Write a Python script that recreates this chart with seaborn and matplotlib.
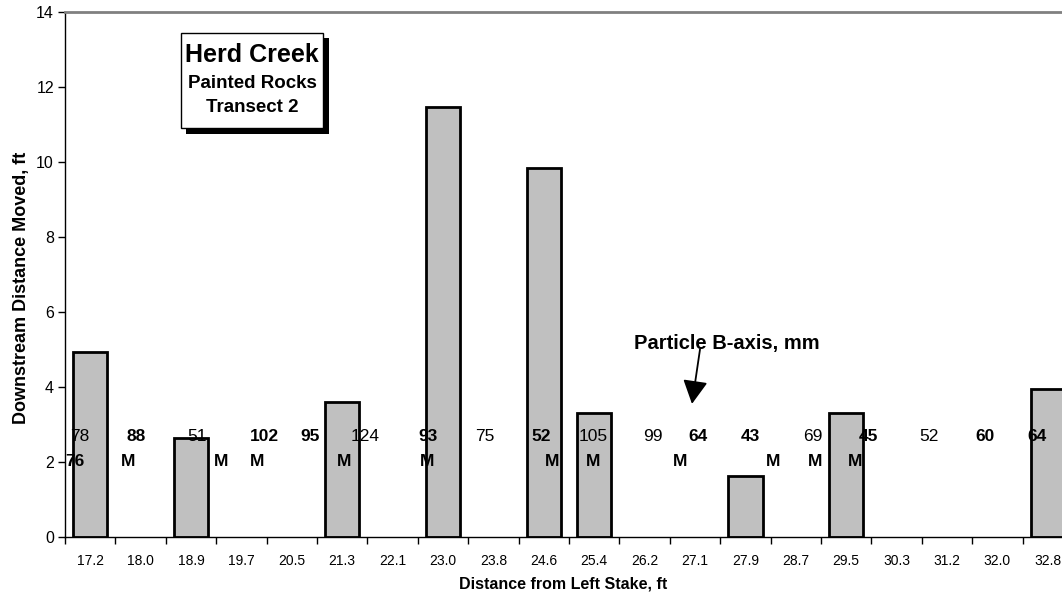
import matplotlib
matplotlib.use("Agg")
import matplotlib.pyplot as plt
from matplotlib.patches import Rectangle
import seaborn as sns
import pandas as pd
import numpy as np

# stations along the transect (x categories)
stations = ['17.2', '18.0', '18.9', '19.7', '20.5', '21.3', '22.1', '23.0', '23.8', '24.6',
            '25.4', '26.2', '27.1', '27.9', '28.7', '29.5', '30.3', '31.2', '32.0', '32.8']

# painted rocks that moved
bar_stations = ['17.2', '18.9', '21.3', '23.0', '24.6', '25.4', '27.9', '29.5', '32.8']
moved_ft = [4.93, 2.63, 3.60, 11.48, 9.84, 3.30, 1.62, 3.30, 3.94]

# particle b-axis labels (upper row), x in category units
size_labels = ['78', '88', '51', '102', '95', '124', '93', '75', '52', '105',
               '99', '64', '43', '69', '45', '52', '60', '64']
size_x = [-0.20, 0.91, 2.12, 3.45, 4.37, 5.46, 6.71, 7.82, 8.95, 9.98,
          11.17, 12.06, 13.10, 14.33, 15.44, 16.65, 17.76, 18.79]
size_bold = [False, True, False, True, True, False, True, False, True, False,
             False, True, True, False, True, False, True, True]
size_y = 2.67

# lower row: "M" = moved (plus one size label)
m_labels = ['76', 'M', 'M', 'M', 'M', 'M', 'M', 'M', 'M', 'M', 'M', 'M']
m_x = [-0.30, 0.75, 2.60, 3.31, 5.04, 6.69, 9.17, 9.98, 11.71, 13.55, 14.38, 15.18]
m_y = 2.0

df = pd.DataFrame({'station': bar_stations, 'moved': moved_ft})

sns.set_style('white')
plt.rcParams['font.family'] = ['Liberation Sans', 'DejaVu Sans']
plt.rcParams['text.color'] = 'black'
plt.rcParams['xtick.color'] = 'black'
plt.rcParams['ytick.color'] = 'black'
plt.rcParams['axes.labelcolor'] = 'black'

fig = plt.figure(figsize=(10.62, 5.96), dpi=100)
ax = fig.add_axes([65 / 1062, 59 / 596, 1008 / 1062, 525 / 596])

sns.barplot(data=df, x='station', y='moved', order=stations, color='#c0c0c0',
            saturation=1, edgecolor='black', linewidth=2, width=0.68, ax=ax, zorder=2)

ax.set_xlim(-0.5, 19.5)
ax.set_ylim(0, 14)
ax.set_yticks(np.arange(0, 15, 2))
ax.set_xticks(np.arange(-0.5, 20, 1), minor=True)
ax.tick_params(axis='y', which='major', length=5, width=1, direction='out',
               left=True, labelsize=11.5, pad=3, color='black', labelcolor='black')
ax.tick_params(axis='x', which='major', length=0, pad=12, labelcolor='black')
ax.tick_params(axis='x', which='minor', length=5, width=1, direction='out',
               bottom=True, color='black')
for lab in ax.get_xticklabels():
    lab.set_fontsize(10)

for side in ['left', 'bottom']:
    ax.spines[side].set_color('black')
    ax.spines[side].set_linewidth(1)
for side in ['top', 'right']:
    ax.spines[side].set_color('#808080')
    ax.spines[side].set_linewidth(2)
ax.set_xlabel('')
ax.set_ylabel('')

# data labels
for t, x, b in zip(size_labels, size_x, size_bold):
    ax.text(x, size_y, t, ha='center', va='center', fontsize=12.5, color='black',
            fontweight='bold' if b else 'normal', zorder=3)
for t, x in zip(m_labels, m_x):
    ax.text(x, m_y, t, ha='center', va='center', fontsize=12.5, color='black',
            fontweight='bold', zorder=3, clip_on=True)

# arrow note
ax.text(12.64, 5.17, 'Particle B-axis, mm', ha='center', va='center',
        fontsize=14.5, fontweight='bold', color='black')
ax.annotate('', xy=(11.94, 3.55), xytext=(12.10, 5.01),
            arrowprops=dict(arrowstyle='-|>,head_length=0.72,head_width=0.38',
                            mutation_scale=20, color='black', lw=1.3,
                            shrinkA=0, shrinkB=0))

# title box with shadow
W, H = 1062, 596
fig.patches.append(Rectangle((186 / W, 1 - 134 / H), 143 / W, 96 / H,
                             transform=fig.transFigure, facecolor='black',
                             edgecolor='none', zorder=5))
fig.patches.append(Rectangle((181 / W, 1 - 128 / H), 142 / W, 95 / H,
                             transform=fig.transFigure, facecolor='white',
                             edgecolor='black', linewidth=1, zorder=6))
fig.text(252 / W, 1 - 55 / H, 'Herd Creek', ha='center', va='center',
         fontsize=18, fontweight='bold', zorder=7)
fig.text(252 / W, 1 - 83 / H, 'Painted Rocks', ha='center', va='center',
         fontsize=13.5, fontweight='bold', zorder=7)
fig.text(252 / W, 1 - 108 / H, 'Transect 2', ha='center', va='center',
         fontsize=13.5, fontweight='bold', zorder=7)

fig.text(563 / W, 1 - 584 / H, 'Distance from Left Stake, ft', ha='center',
         va='center', fontsize=11.5, fontweight='bold')
fig.text(22 / W, 1 - 288 / H, 'Downstream Distance Moved, ft', ha='center',
         va='center', rotation=90, fontsize=13, fontweight='bold')

fig.savefig('out.png', dpi=100)
